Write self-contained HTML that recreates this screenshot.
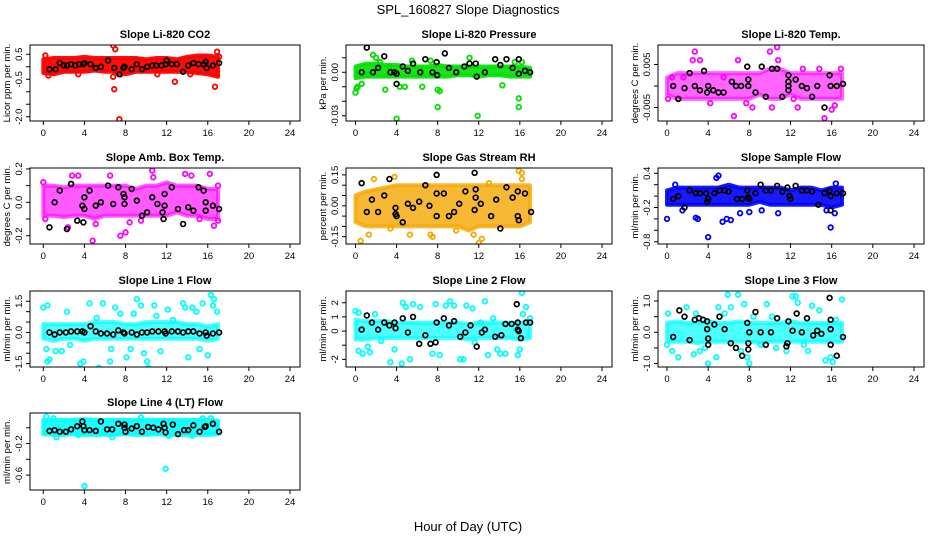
<!DOCTYPE html>
<html><head><meta charset="utf-8"><style>
body{margin:0;background:#fff}
svg{display:block;font-family:"Liberation Sans",sans-serif}
</style></head><body>
<svg id="chart" width="936" height="540" viewBox="0 0 936 540">
<rect x="0" y="0" width="936" height="540" fill="#fff"/>
<text x="468" y="14" text-anchor="middle" font-size="13">SPL_160827  Slope Diagnostics</text>
<text x="468" y="531" text-anchor="middle" font-size="13">Hour of Day (UTC)</text>
</svg>
<script>
const xTicks=[0,4,8,12,16,20,24];
const bandHours=[0,1,2,3,4,5,6,7,8,9,10,11,12,13,14,15,16,17];

const co2Hi=[0.3,0.35,0.35,0.35,0.4,0.35,0.35,0.35,0.35,0.35,0.3,0.35,0.35,0.3,0.4,0.45,0.45,0.4];
const co2Lo=[-0.25,-0.3,-0.2,-0.2,-0.2,-0.15,-0.2,-0.2,-0.3,-0.2,-0.2,-0.2,-0.2,-0.2,-0.2,-0.25,-0.3,-0.4];
const co2Pts=[[0.2,0.45],[0.5,-0.35],[6.8,0.85],[6.8,-0.4],[6.9,-0.9],[7.0,0.7],[7.4,-2.1],[7.5,-0.3],[12.8,-0.6],[14.3,-0.3],[16.7,-0.8],[16.9,0.6],[17.1,0.4],[3.4,-0.3],[11.1,-0.3],[7.2,-0.2]];
const co2Blk=[[0.6,-0.1],[1.2,-0.1],[1.6,0.15],[2.0,0.05],[2.3,0.05],[2.7,0.1],[3.1,0.05],[3.5,0.1],[3.9,0.1],[4.0,0.15],[4.6,0.1],[5.1,-0.05],[5.6,0],[6.3,0.25],[6.9,-0.05],[7.4,-0.3],[7.8,-0.05],[7.9,0],[8.6,-0.1],[9.1,0.1],[9.6,-0.1],[10.1,0],[10.6,0.05],[11.0,0.05],[11.5,0.05],[11.9,0.1],[12,0.25],[12.5,0.1],[13.0,0.1],[13.6,-0.2],[14.1,0.05],[14.6,0.15],[15.1,0.1],[15.6,0.1],[15.8,0.2],[15.9,-0.05],[16.5,0.05],[17.1,0.15]];

const presHi=[0.004,0.006,0.006,0.005,0.005,0.004,0.004,0.004,0.005,0.004,0.004,0.004,0.004,0.004,0.004,0.004,0.004,0.003];
const presLo=[-0.004,-0.003,-0.003,-0.003,-0.003,-0.003,-0.003,-0.003,-0.003,-0.003,-0.002,-0.002,-0.003,-0.002,-0.002,-0.003,-0.003,-0.003];
const presPts=[[0,-0.014],[0.1,-0.011],[0.2,-0.01],[0.6,-0.008],[1.2,-0.002],[1.7,0.012],[2.0,0.01],[2.4,0.007],[2.9,-0.012],[3.3,0.004],[4.0,-0.032],[4.3,-0.01],[4.8,-0.01],[5.5,0.008],[6.5,-0.01],[7.3,0.008],[8,-0.012],[8.2,-0.013],[8,-0.024],[11.9,-0.030],[11.1,0.01],[14.3,-0.009],[15.9,-0.018],[15.9,-0.024],[16.2,0.007],[15.5,0.007]];
const presBlk=[[0.6,0],[1.1,0.017],[1.7,0],[2.2,0.003],[2.8,0.011],[3.4,0],[3.8,0],[4.0,-0.001],[4.0,-0.008],[4.6,0.004],[5.1,0.001],[5.6,0.006],[6.3,0],[6.8,0.009],[7.5,0],[7.9,0.007],[7.95,-0.002],[8.7,0.013],[9.1,0.003],[9.8,0.0],[10.6,0.004],[11.1,0.006],[11.7,0.006],[11.8,-0.003],[12.6,0],[13.6,0.009],[14.1,0.005],[14.7,0.009],[15.3,0.003],[15.9,0.009],[15.9,-0.001],[16.5,0.001],[17.0,0]];

const tempHi=[0.002,0.003,0.003,0.003,0.003,0.003,0.003,0.003,0.003,0.003,0.004,0.004,0.003,0.003,0.003,0.003,0.003,0.003];
const tempLo=[-0.002,-0.003,-0.003,-0.003,-0.003,-0.003,-0.003,-0.003,-0.003,-0.002,-0.003,-0.003,-0.002,-0.003,-0.003,-0.003,-0.003,-0.003];
const tempPts=[[0.1,-0.003],[0.5,0.002],[1.1,-0.003],[1.6,0.002],[2.5,0.006],[2.7,0.008],[3.2,0.006],[4.2,-0.004],[5.5,0.002],[6.5,-0.007],[6.9,0.006],[7.7,-0.004],[8.3,-0.005],[10.0,0.008],[10.7,0.009],[10.8,0.006],[10.2,-0.005],[12.3,-0.003],[12.7,-0.005],[15.3,-0.0075],[16.0,-0.0055],[16.3,-0.0045],[16.9,0.004],[14.8,0.004],[13.2,0.004]];
const tempBlk=[[0.6,0],[1.1,-0.003],[1.7,-0.0005],[2.2,0.003],[2.7,0],[3.2,-0.001],[3.6,0.0035],[3.9,-0.0015],[4.0,0],[4.5,-0.001],[5.0,-0.0015],[5.5,-0.0015],[6.3,0.001],[6.7,0],[7.2,0],[7.8,0.0045],[7.9,0.0015],[7.9,0],[8.6,-0.0015],[9.2,0.0045],[9.6,-0.0025],[10.2,0.004],[10.7,0.004],[11.2,-0.0025],[11.8,0.0025],[11.8,0.001],[11.8,0],[11.8,-0.001],[12.5,0.0015],[13.1,0],[13.6,-0.0005],[14.1,-0.0025],[14.6,0],[15.3,-0.005],[15.8,0.0025],[15.9,0],[16.5,0],[17.1,0.0005]];

const boxHi=[0.1,0.1,0.09,0.1,0.1,0.1,0.1,0.1,0.1,0.08,0.1,0.1,0.12,0.1,0.1,0.1,0.08,0.08];
const boxLo=[-0.08,-0.08,-0.09,-0.08,-0.08,-0.1,-0.08,-0.08,-0.08,-0.08,-0.08,-0.08,-0.08,-0.06,-0.08,-0.08,-0.1,-0.1];
const boxPts=[[0,0.12],[0.2,-0.1],[2.4,-0.15],[2.8,0.16],[3.4,0.16],[4.8,-0.23],[5.1,-0.13],[6.5,0.16],[7.5,-0.2],[8.0,-0.18],[8.4,-0.12],[9.5,-0.11],[10.6,0.19],[10.7,0.15],[13.8,0.17],[14.4,0.16],[15.2,-0.1],[16.2,0.17],[16.6,-0.14],[17.0,0.1],[17.0,-0.11]];
const boxBlk=[[0.6,-0.15],[1.1,0],[1.6,0.07],[2.3,-0.16],[2.7,0.11],[3.3,-0.11],[3.9,-0.12],[3.8,-0.02],[4.0,0.03],[4.0,-0.04],[4.5,0.07],[5.1,-0.02],[5.6,0],[6.3,0.1],[6.8,-0.01],[7.3,0.09],[7.8,0.05],[7.9,0.03],[7.9,-0.01],[8.6,0.08],[9.1,0.01],[9.6,-0.08],[10.1,-0.06],[10.6,0.03],[11.1,-0.01],[11.6,-0.06],[11.7,-0.1],[11.8,0.05],[11.8,-0.02],[12.5,0.09],[13.1,-0.04],[13.6,-0.13],[14.1,-0.03],[14.6,-0.05],[15.1,0.09],[15.6,0.07],[15.8,0],[15.8,-0.05],[16.5,-0.02],[17.1,-0.04]];

const rhHi=[0.05,0.07,0.08,0.09,0.1,0.1,0.1,0.1,0.1,0.1,0.1,0.1,0.1,0.1,0.1,0.1,0.1,0.1];
const rhLo=[-0.08,-0.1,-0.1,-0.1,-0.1,-0.1,-0.1,-0.1,-0.1,-0.1,-0.1,-0.12,-0.1,-0.1,-0.1,-0.1,-0.1,-0.08];
const rhPts=[[0.5,-0.17],[1.3,-0.14],[1.8,0.13],[3.4,-0.11],[3.8,0.14],[5.3,-0.14],[7.3,-0.14],[7.5,-0.15],[9.8,-0.12],[12.0,-0.18],[12.3,-0.16],[15.9,0.17],[16.2,0.16],[16.2,0.13],[13,0.11],[11.5,-0.14]];
const rhBlk=[[0.6,0.11],[1.1,-0.03],[1.6,0.03],[2.2,-0.03],[2.8,0.05],[3.3,0.13],[3.9,-0.01],[3.9,-0.04],[4.0,-0.05],[4.6,-0.08],[5.1,0.01],[5.6,-0.01],[6.2,0.02],[6.8,0.1],[7.2,0],[7.9,0.15],[7.9,0.06],[7.9,-0.05],[8.6,0.06],[9.1,-0.05],[9.6,-0.03],[10.1,0.01],[10.7,0.07],[11.6,0.16],[11.7,0.08],[11.7,0.04],[11.6,-0.02],[12.2,0.01],[13.2,-0.05],[13.7,0.03],[14.1,-0.11],[14.7,0.09],[15.3,0.04],[15.8,0.07],[15.8,-0.05],[15.9,-0.07],[16.5,0.06],[17.1,-0.03]];

const sfHi=[0.1,0.15,0.15,0.15,0.15,0.15,0.2,0.15,0.15,0.15,0.15,0.15,0.1,0.15,0.15,0.1,0.15,0.15];
const sfLo=[-0.15,-0.15,-0.15,-0.15,-0.15,-0.15,-0.15,-0.15,-0.15,-0.1,-0.15,-0.15,-0.15,-0.15,-0.15,-0.15,-0.2,-0.15];
const sfPts=[[0,-0.4],[0.8,0.2],[1.5,-0.25],[2.8,-0.38],[3.0,-0.4],[4.0,-0.72],[4.8,0.32],[5.0,0.36],[5.4,-0.45],[5.8,-0.4],[6.2,-0.42],[7.1,-0.3],[8.0,-0.28],[9.2,-0.25],[12.0,-0.88],[15.9,-0.55],[16.3,-0.3],[16.4,0.22],[15.5,-0.25],[10.8,-0.3]];
const sfBlk=[[0.6,-0.05],[1.1,0],[1.7,-0.2],[2.2,0.1],[2.8,0.05],[3.2,0.05],[3.8,0.05],[3.9,-0.1],[4.0,-0.05],[4.6,0.05],[5.1,0.1],[5.6,0.1],[6.0,0.08],[6.8,-0.05],[7.3,-0.05],[7.8,0.1],[7.9,-0.02],[8.0,-0.05],[8.6,0.05],[9.1,0.2],[9.6,0.1],[10.1,0.1],[10.7,0.18],[11.2,0.08],[11.7,0.15],[11.9,0],[12.0,-0.05],[12.5,0.18],[13.1,0.1],[13.6,0.1],[14.1,0.08],[14.7,-0.15],[15.3,0.05],[15.8,0.1],[15.9,-0.25],[15.9,0],[16.5,0.05],[17.1,0.05]];

const l1Hi=[0.4,0.4,0.4,0.4,0.4,0.5,0.5,0.5,0.4,0.4,0.5,0.5,0.5,0.5,0.4,0.4,0.3,0.4];
const l1Lo=[-0.3,-0.4,-0.3,-0.3,-0.4,-0.3,-0.3,-0.3,-0.3,-0.3,-0.3,-0.3,-0.3,-0.3,-0.3,-0.3,-0.4,-0.3];
const l1Pts=[[0,1.2],[0.4,1.3],[0.4,-1.4],[0.6,-1.3],[0.3,-0.8],[1.2,-0.9],[1.8,-0.9],[2.3,1.0],[3.6,-1.5],[3.9,-1.4],[4.5,1.4],[5.4,-1.7],[5.8,1.4],[6.5,-1.4],[7.0,1.2],[7.5,0.9],[8.1,-1.2],[8.8,0.9],[9.1,1.6],[9.5,1.3],[9.8,-1.0],[10.1,-1.4],[10.2,-1.7],[10.8,1.3],[11.4,-0.9],[12.1,1.1],[13.6,1.4],[13.8,1.2],[14.1,-1.2],[14.5,1.2],[14.9,1.0],[15.5,1.4],[15.2,-0.8],[16.0,-1.1],[16.3,1.8],[16.5,1.3],[16.6,1.6],[16.9,1.0],[8.5,-0.8],[6.6,-0.8],[2.6,-0.6],[12.6,0.6],[11,0.8],[5.2,0.7]];
const l1Blk=[[0.6,0],[1.1,-0.1],[1.6,0],[2.2,0],[2.7,0.05],[3.3,0.05],[3.8,0.05],[4.0,0],[4.6,0.3],[5.1,0.05],[5.6,-0.05],[6.2,-0.05],[6.8,-0.1],[7.3,0.1],[7.8,0],[7.9,-0.05],[8.6,0],[9.1,-0.1],[9.6,0],[10.1,0],[10.6,0.05],[11.2,0.05],[11.8,0.05],[11.9,-0.05],[12.5,0.05],[13.1,0.05],[13.6,0],[14.1,0.05],[14.6,0.05],[15.2,-0.05],[15.8,0],[15.9,-0.15],[16.5,-0.05],[17.1,0]];

const l2Hi=[0.8,0.7,0.7,0.7,0.6,0.6,0.6,0.6,0.6,0.6,0.6,0.5,0.6,0.6,0.6,0.6,0.6,0.6];
const l2Lo=[-0.6,-0.6,-0.5,-0.5,-0.5,-0.5,-0.5,-0.5,-0.5,-0.5,-0.5,-0.6,-0.5,-0.5,-0.5,-0.5,-0.6,-0.5];
const l2Pts=[[0,1.4],[0.3,1.3],[0.3,-1.4],[0.7,-1.6],[1.2,-1.1],[1.4,-1.5],[1.9,1.2],[3.4,-2.2],[3.8,-1.3],[4.5,-2.3],[4.6,2.0],[4.9,1.7],[5.3,-2.0],[5.6,1.9],[6.3,1.7],[7.5,-1.6],[7.8,1.9],[8.2,-1.7],[8.8,1.8],[9.2,2.1],[9.6,1.8],[10.2,-2.0],[10.5,-2.0],[10.8,1.8],[11.4,1.6],[11.6,-0.8],[12.2,0.6],[12.6,2.1],[12.9,-1.7],[13.4,0.9],[13.8,-1.3],[14.1,-1.6],[14.6,-1.6],[15.8,-1.7],[16.0,-1.3],[16.2,2.7],[16.6,1.7],[16.3,1.2],[17,0.9],[2.5,-0.7]];
const l2Blk=[[0.6,0.1],[1.1,1.1],[1.6,0.6],[2.2,0.1],[2.8,0.6],[3.3,0.4],[3.8,0.6],[3.9,0.2],[4.6,0.9],[5.1,-0.1],[5.6,1.0],[6.2,-0.9],[6.8,-0.3],[7.3,-0.9],[7.8,-0.8],[7.9,0.6],[8.6,0.9],[9.1,0.4],[9.6,0.7],[10.2,-0.4],[10.7,-0.1],[11.2,0.4],[11.8,-1.1],[12.3,-0.1],[12.6,0.1],[13.6,-0.4],[14.2,-0.3],[14.6,0.5],[15.2,0.5],[15.7,1.9],[15.8,0.6],[15.8,0.1],[15.9,0],[16.1,-0.5],[16.6,0.6],[17.0,0.6]];

const l3Hi=[0.3,0.35,0.3,0.3,0.35,0.3,0.3,0.35,0.3,0.3,0.3,0.3,0.35,0.3,0.3,0.3,0.3,0.3];
const l3Lo=[-0.3,-0.3,-0.3,-0.35,-0.3,-0.3,-0.3,-0.3,-0.3,-0.35,-0.3,-0.3,-0.3,-0.3,-0.3,-0.3,-0.3,-0.3];
const l3Pts=[[0,-0.4],[0.1,0.6],[0.5,-0.6],[1.1,-0.8],[1.9,0.8],[2.6,-0.7],[2.8,0.6],[3.2,-0.6],[3.7,-0.5],[4.0,-1.0],[4.8,-0.8],[5.0,0.8],[5.6,0.6],[5.9,1.2],[6.2,0.8],[6.9,1.2],[7.2,-0.6],[7.5,0.9],[7.8,-0.8],[8.0,-1.0],[8.4,0.5],[9.1,-0.4],[9.7,0.9],[10.2,0.5],[10.6,-0.5],[11.6,-0.6],[12.2,1.15],[12.5,1.15],[12.7,0.95],[13.7,-0.6],[14.1,0.85],[14.8,0.7],[15.4,-0.9],[15.9,-0.8],[16.1,-0.95],[16.4,0.4],[17.0,1.05],[13.3,-0.4]];
const l3Blk=[[0.6,-0.15],[1.2,0.7],[1.7,0.5],[2.2,-0.25],[2.7,0.4],[3.1,0.45],[3.5,0.4],[3.9,0.35],[3.9,0.1],[4.0,-0.4],[4.0,-0.2],[4.6,0.25],[5.1,0.5],[5.6,0.1],[6.2,-0.35],[6.7,-0.5],[7.3,-0.75],[7.8,0.3],[7.9,-0.55],[7.9,-0.35],[8.0,0],[8.6,0.65],[9.1,0],[9.6,-0.4],[10.1,0],[10.7,0.45],[11.6,-0.45],[11.7,-0.35],[11.8,0.35],[12.2,0.05],[12.6,0.6],[13.1,0.0],[13.6,0.45],[14.2,-0.1],[14.6,0.05],[15.0,-0.05],[15.8,1.1],[15.9,0.4],[15.9,0.1],[15.9,-0.4],[16.5,-0.75],[17.1,-0.15]];

const l4Hi=[0.1,0.1,0.1,0.1,0.11,0.1,0.1,0.1,0.1,0.1,0.1,0.1,0.1,0.1,0.1,0.1,0.1,0.09];
const l4Lo=[-0.08,-0.09,-0.09,-0.08,-0.09,-0.09,-0.09,-0.09,-0.08,-0.09,-0.09,-0.08,-0.09,-0.09,-0.09,-0.09,-0.09,-0.08];
const l4Pts=[[0.3,0.14],[1.0,0.12],[1.3,-0.12],[3.4,-0.09],[4.0,-0.74],[6.7,-0.12],[11.9,-0.52],[12.2,-0.1],[14.5,-0.1],[15.5,0.12],[16.3,0.12],[9.5,0.13]];
const l4Blk=[[0.6,-0.04],[1.1,-0.03],[1.6,-0.05],[2.2,-0.05],[2.7,-0.02],[3.3,0.02],[3.8,0.08],[3.9,0.02],[4.0,-0.03],[4.5,-0.03],[5.1,-0.04],[5.6,0.08],[6.2,-0.02],[6.7,-0.02],[7.3,0.05],[7.9,0.04],[7.9,0],[8.0,-0.05],[8.6,-0.01],[9.1,0.02],[9.6,-0.05],[10.2,0.01],[10.7,0],[11.2,-0.02],[11.7,0.05],[11.8,0],[11.9,-0.06],[12.6,0.04],[13.1,-0.08],[13.7,-0.03],[14.1,-0.03],[14.6,0.03],[15.2,-0.05],[15.7,0.01],[15.8,0.02],[16.5,0.05],[17.1,-0.05]];

const cols=[{l:30,r:300,x0:43.3,x24:290},{l:346,r:612,x0:355.5,x24:602},{l:658,r:924,x0:667,x24:914}];
const rows=[{t:45,b:121},{t:168,b:244},{t:291,b:367},{t:413,b:490}];
const NS='http://www.w3.org/2000/svg';
const svg=document.getElementById('chart');
function mk(tag,attrs,parent){const e=document.createElementNS(NS,tag);for(const k in attrs)e.setAttribute(k,attrs[k]);(parent||svg).appendChild(e);return e;}

const panels=[
 {name:'co2',title:'Slope Li-820 CO2',ylab:'Licor ppm per min.',c:0,r:0,dom:[-2.17,0.87],ticks:[0.5,0,-0.5,-1,-1.5,-2],labels:[[0.5,'0.5'],[-0.5,'-0.5'],[-2,'-2.0']],color:'#ff0000',op:0.95,hi:co2Hi,lo:co2Lo,pts:co2Pts,blk:co2Blk},
 {name:'pressure',title:'Slope Li-820 Pressure',ylab:'kPa per min.',c:1,r:0,dom:[-0.0336,0.0188],ticks:[0.01,0,-0.01,-0.02,-0.03],labels:[[0,'0.00'],[-0.03,'-0.03']],color:'#00e000',op:0.9,hi:presHi,lo:presLo,pts:presPts,blk:presBlk},
 {name:'li820-temp',title:'Slope Li-820 Temp.',ylab:'degrees C per min.',c:2,r:0,dom:[-0.00814,0.00953],ticks:[0.005,0,-0.005],labels:[[0.005,'0.005'],[-0.005,'-0.005']],color:'#ff00ff',op:0.6,hi:tempHi,lo:tempLo,pts:tempPts,blk:tempBlk},
 {name:'amb-box-temp',title:'Slope Amb. Box Temp.',ylab:'degrees C per min.',c:0,r:1,dom:[-0.2497,0.2054],ticks:[0.2,0.1,0,-0.1,-0.2],labels:[[0.2,'0.2'],[0,'0.0'],[-0.2,'-0.2']],color:'#ff00ff',op:0.65,hi:boxHi,lo:boxLo,pts:boxPts,blk:boxBlk},
 {name:'gas-rh',title:'Slope Gas Stream RH',ylab:'percent per min.',c:1,r:1,dom:[-0.1854,0.1835],ticks:[0.15,0.1,0.05,0,-0.05,-0.1,-0.15],labels:[[0.15,'0.15'],[0,'0.00'],[-0.15,'-0.15']],color:'#f5a800',op:0.8,hi:rhHi,lo:rhLo,pts:rhPts,blk:rhBlk},
 {name:'sample-flow',title:'Slope Sample Flow',ylab:'ml/min per min.',c:2,r:1,dom:[-0.84,0.493],ticks:[0.4,0.2,0,-0.2,-0.4,-0.6,-0.8],labels:[[0.4,'0.4'],[-0.2,'-0.2'],[-0.8,'-0.8']],color:'#0000ff',op:0.9,hi:sfHi,lo:sfLo,pts:sfPts,blk:sfBlk},
 {name:'line1-flow',title:'Slope Line 1 Flow',ylab:'ml/min per min.',c:0,r:2,dom:[-1.663,1.995],ticks:[1.5,1,0.5,0,-0.5,-1,-1.5],labels:[[1.5,'1.5'],[0,'0.0'],[-1.5,'-1.5']],color:'#00ffff',op:0.7,hi:l1Hi,lo:l1Lo,pts:l1Pts,blk:l1Blk},
 {name:'line2-flow',title:'Slope Line 2 Flow',ylab:'ml/min per min.',c:1,r:2,dom:[-2.54,2.83],ticks:[2,1,0,-1,-2],labels:[[2,'2'],[1,'1'],[0,'0'],[-2,'-2']],color:'#00ffff',op:0.7,hi:l2Hi,lo:l2Lo,pts:l2Pts,blk:l2Blk},
 {name:'line3-flow',title:'Slope Line 3 Flow',ylab:'ml/min per min.',c:2,r:2,dom:[-1.11,1.32],ticks:[1,0.5,0,-0.5,-1],labels:[[1,'1.0'],[0,'0.0'],[-1,'-1.0']],color:'#00ffff',op:0.7,hi:l3Hi,lo:l3Lo,pts:l3Pts,blk:l3Blk},
 {name:'line4-flow',title:'Slope Line 4 (LT) Flow',ylab:'ml/min per min.',c:0,r:3,dom:[-0.789,0.187],ticks:[0,-0.2,-0.4,-0.6],labels:[[-0.2,'-0.2'],[-0.6,'-0.6']],color:'#00ffff',op:0.9,hi:l4Hi,lo:l4Lo,pts:l4Pts,blk:l4Blk}
];

panels.forEach(p=>{
 const C=cols[p.c],R=rows[p.r];
 const xs=h=>C.x0+(C.x24-C.x0)*h/24;
 const ys=v=>R.b-(v-p.dom[0])/(p.dom[1]-p.dom[0])*(R.b-R.t);
 const g=mk('g',{});
 
 
 const clipId='clip-'+p.name;
 const cp=mk('clipPath',{id:clipId},g);mk('rect',{x:C.l,y:R.t,width:C.r-C.l,height:R.b-R.t},cp);
 const plot=mk('g',{'clip-path':'url(#'+clipId+')'},g);
 let d='';
 bandHours.forEach((h,i)=>{d+=(i?'L':'M')+xs(h).toFixed(1)+','+ys(p.hi[i]).toFixed(1);});
 for(let i=bandHours.length-1;i>=0;i--)d+='L'+xs(bandHours[i]).toFixed(1)+','+ys(p.lo[i]).toFixed(1);
 const band=mk('path',{d:d+'Z',fill:p.color,stroke:p.color,'stroke-width':4,'stroke-linejoin':'round','fill-opacity':p.op,'stroke-opacity':p.op},plot);
 
 
 p.pts.forEach(pt=>{
  const c=mk('circle',{cx:xs(pt[0]),cy:ys(pt[1]),r:2.3,fill:'none',stroke:p.color,'stroke-width':1.8},plot);
  
  
 });
 p.blk.forEach(pt=>{
  const c=mk('circle',{cx:xs(pt[0]),cy:ys(pt[1]),r:2.4,fill:'none',stroke:'#000','stroke-width':1.7},plot);
  
  
 });
 mk('rect',{x:C.l,y:R.t,width:C.r-C.l,height:R.b-R.t,fill:'none',stroke:'#000','stroke-width':1},g);
 mk('line',{x1:xs(0),x2:xs(24),y1:R.b,y2:R.b,stroke:'#000'},g);
 xTicks.forEach(t=>{
  mk('line',{x1:xs(t),x2:xs(t),y1:R.b,y2:R.b+4,stroke:'#000'},g);
  const tx=mk('text',{x:xs(t),y:R.b+15,'font-size':9.5,'text-anchor':'middle'},g);tx.textContent=t;
  
  
 });
 p.ticks.forEach(t=>{mk('line',{x1:C.l-4,x2:C.l,y1:ys(t),y2:ys(t),stroke:'#000'},g);});
 p.labels.forEach(l=>{
  const y=ys(l[0]),x=C.l-8;
  const tx=mk('text',{x:x,y:y,'font-size':9.5,'text-anchor':'middle',transform:'rotate(-90 '+x+' '+y+')'},g);tx.textContent=l[1];
  
  
 });
 const yl=C.l-20,ym=(R.t+R.b)/2;
 const yt=mk('text',{x:yl,y:ym,'font-size':9.5,'text-anchor':'middle',transform:'rotate(-90 '+yl+' '+ym+')'},g);yt.textContent=p.ylab;
 
 
 const tt=mk('text',{x:(C.l+C.r)/2,y:R.t-7,'font-size':11,'font-weight':'bold','text-anchor':'middle'},g);tt.textContent=p.title;
 
 
});
</script>
</body></html>
